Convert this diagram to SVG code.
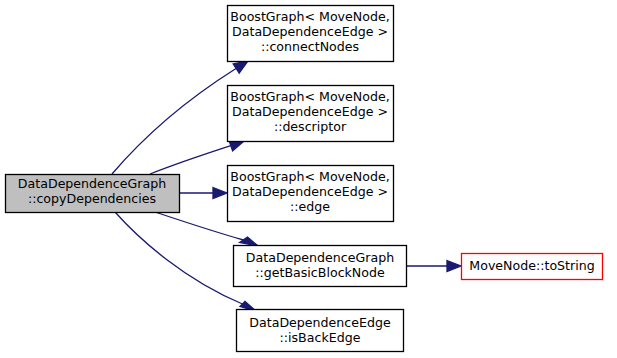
<svg xmlns="http://www.w3.org/2000/svg" width="617" height="358" viewBox="0 0 617 358">
<defs>
<style>
.n rect{fill:#fff;stroke:#000;stroke-width:1.3}
.n text{font-family:"DejaVu Sans",sans-serif;font-size:12.6px;text-anchor:middle;fill:#000}
#root rect{fill:#bfbfbf}
#tostring rect{stroke:#ff0000}
.e path{fill:none;stroke:#191970;stroke-width:1.3}
.e polygon{fill:#191970;stroke:#191970;stroke-width:1.3}
</style>
</defs>
<rect width="617" height="358" fill="#fff"/>
<g class="e" id="edges">
<path d="M112,174 C135,147 175,107 236,68.5"/>
<polygon points="233.2,63.9 248,61 239.2,73.1"/>
<path d="M150,174 C175,164 205,154 230.8,145.6"/>
<polygon points="229,140.4 244,141 232.6,150.8"/>
<path d="M179,193 L213,193"/>
<polygon points="213,187.5 227,193 213,198.5"/>
<path d="M155,212 C185,222 215,232 243.5,240"/>
<polygon points="239.5,242.5 247.5,237 258,246"/>
<path d="M115,212 C140,240 185,280 242.5,304"/>
<polygon points="240,306.5 245,301.5 256,311"/>
<path d="M407,266 L447,266"/>
<polygon points="447,260.5 461,266 447,271.5"/>
</g>
<g class="n" id="root"><rect x="5.5" y="174.5" width="174" height="38"/><text x="92" y="188">DataDependenceGraph</text><text x="92" y="203">::copyDependencies</text></g>
<g class="n" id="connectNodes"><rect x="227.5" y="5.5" width="166" height="56"/><text x="310" y="21">BoostGraph&lt; MoveNode,</text><text x="310" y="36">DataDependenceEdge &gt;</text><text x="310" y="51">::connectNodes</text></g>
<g class="n" id="descriptor"><rect x="227.5" y="85.5" width="166" height="56"/><text x="310" y="101">BoostGraph&lt; MoveNode,</text><text x="310" y="116">DataDependenceEdge &gt;</text><text x="310" y="131">::descriptor</text></g>
<g class="n" id="edge"><rect x="227.5" y="165.5" width="166" height="56"/><text x="310" y="181">BoostGraph&lt; MoveNode,</text><text x="310" y="196">DataDependenceEdge &gt;</text><text x="310" y="211">::edge</text></g>
<g class="n" id="getBasicBlockNode"><rect x="233.5" y="245.5" width="173" height="41"/><text x="320" y="262">DataDependenceGraph</text><text x="320" y="277">::getBasicBlockNode</text></g>
<g class="n" id="isBackEdge"><rect x="236.5" y="309.5" width="167" height="42"/><text x="320" y="327">DataDependenceEdge</text><text x="320" y="342">::isBackEdge</text></g>
<g class="n" id="tostring"><rect x="461.5" y="253.5" width="141" height="26"/><text x="532" y="270">MoveNode::toString</text></g>
</svg>
